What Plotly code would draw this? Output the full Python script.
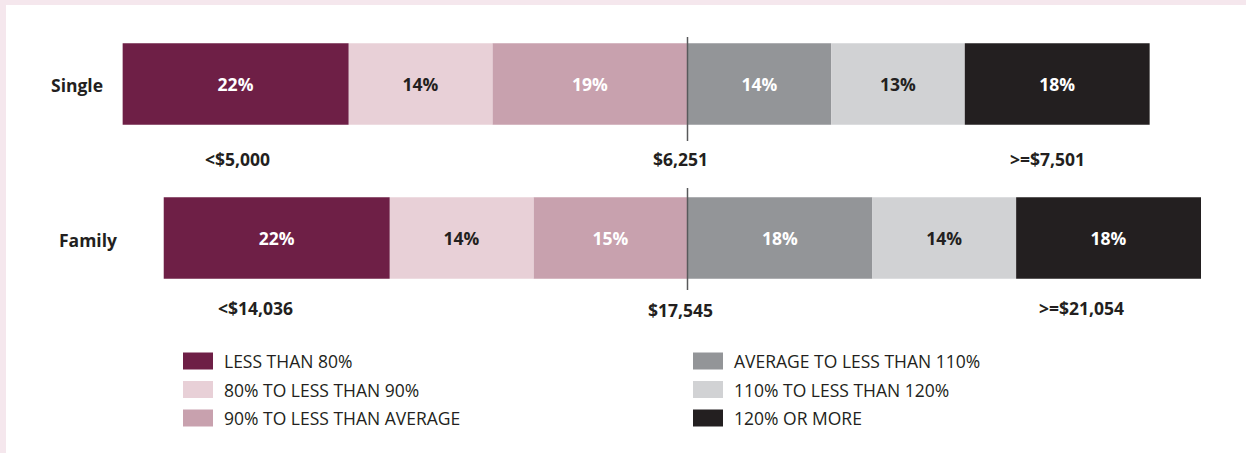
import plotly.graph_objects as go

W, H = 1246, 453

groups = ["Single", "Family"]
categories = ["LESS THAN 80%", "80% TO LESS THAN 90%", "90% TO LESS THAN AVERAGE",
              "AVERAGE TO LESS THAN 110%", "110% TO LESS THAN 120%", "120% OR MORE"]
colors = ["#6e1f46", "#e8d0d7", "#c8a1ae", "#939598", "#d1d2d4", "#231f20"]
text_colors = ["#ffffff", "#231f20", "#ffffff", "#ffffff", "#231f20", "#ffffff"]
below_avg = [True, True, True, False, False, False]

single_vals = [22, 14, 19, 14, 13, 18]
family_vals = [22, 14, 15, 18, 14, 18]

single_thresholds = ["<$5,000", "$6,251", ">=$7,501"]
family_thresholds = ["<$14,036", "$17,545", ">=$21,054"]

BOLD = "Open Sans"
DARK = "#231f20"
BSIZE = 17.5

fig = go.Figure()

# stacking order from centre outward
order = [2, 1, 0, 3, 4, 5]
for i in order:
    vals = [single_vals[i], family_vals[i]]
    sign = -1 if below_avg[i] else 1
    fig.add_trace(go.Bar(
        y=groups, x=[sign * v for v in vals], orientation="h",
        name=categories[i], marker=dict(color=colors[i], line=dict(width=0)),
        text=[f"<b>{v}%</b>" for v in vals], textposition="inside",
        insidetextanchor="middle", textangle=0,
        textfont=dict(family=BOLD, size=BSIZE, color=text_colors[i]),
        width=0.53, showlegend=False, hoverinfo="skip",
    ))

k = 10.27  # px per percent
cx = 687.5
fig.update_layout(
    width=W, height=H, barmode="relative",
    margin=dict(l=0, r=0, t=0, b=0),
    paper_bgcolor="#f5e7ed", plot_bgcolor="rgba(0,0,0,0)",
    xaxis=dict(range=[-cx / k, (W - cx) / k], visible=False, fixedrange=True),
    yaxis=dict(type="category", categoryarray=["Family", "Single"],
               range=[(238 - H) / 154, 238 / 154], visible=False, fixedrange=True),
    uniformtext=dict(mode=False),
)

# white card
fig.add_shape(type="rect", xref="paper", yref="paper", x0=6 / W, x1=1, y0=0, y1=1 - 5 / H,
              fillcolor="white", line=dict(width=0), layer="below")

# centre (average) lines
for y0, y1 in [(1 - (141 - 84) / 154, 1 + (84 - 37) / 154), (-(290 - 238) / 154, (238 - 188) / 154)]:
    fig.add_shape(type="line", xref="x", yref="y", x0=0, x1=0, y0=y0, y1=y1,
                  line=dict(color="#58595b", width=1.5))

def px(x):
    return x / W

def py(y):
    return 1 - y / H

def label(x, y, text, anchor="center", size=BSIZE, bold=True):
    fig.add_annotation(x=px(x), y=py(y), xref="paper", yref="paper",
                       text=f"<b>{text}</b>" if bold else text,
                       showarrow=False, xanchor=anchor, yanchor="middle",
                       font=dict(family=BOLD, size=size, color=DARK))

# row labels
label(105, 85, "Single", "right")
label(119, 240, "Family", "right")

# threshold labels
for lab, x in zip(single_thresholds, [237, 680, 1047]):
    label(x, 159, lab)
for lab, x, y in zip(family_thresholds, [255, 680, 1081], [308, 310, 308]):
    label(x, y, lab)

# legend
rows = [361, 389.5, 418]
for i, cat in enumerate(categories):
    col = i // 3
    r = rows[i % 3]
    sx = 183 if col == 0 else 693
    fig.add_shape(type="rect", xref="paper", yref="paper", x0=px(sx), x1=px(sx + 30),
                  y0=py(r + 8.5), y1=py(r - 8.5), fillcolor=colors[i], line=dict(width=0))
    label(sx + 39, r, cat, "left", size=17.5, bold=False)

fig.write_html("out.html", config={"displayModeBar": False},
               post_script="document.body.style.margin='0';")
